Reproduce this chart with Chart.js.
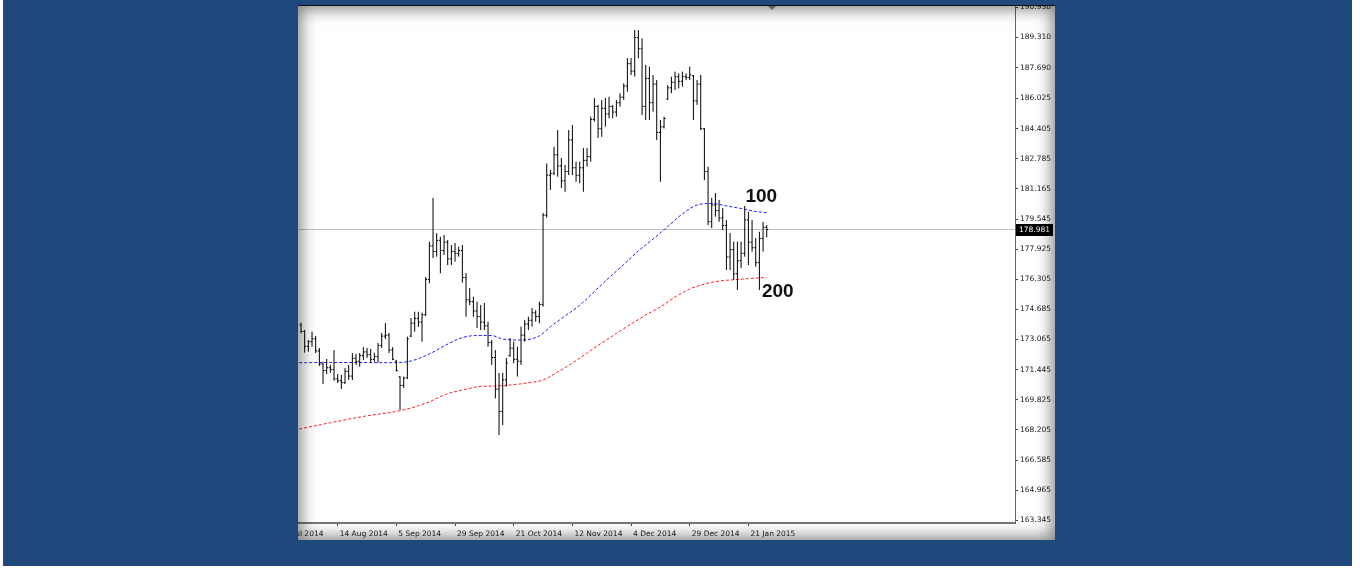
<!DOCTYPE html>
<html>
<head>
<meta charset="utf-8">
<title>GBPJPY Daily</title>
<script src="https://cdn.jsdelivr.net/npm/chart.js@4.4.1/dist/chart.umd.min.js"></script>
<style>
  html, body { margin: 0; padding: 0; background: #ffffff; }
  body { width: 1360px; height: 569px; position: relative; overflow: hidden; }
  #frame { position: absolute; left: 3px; top: 0; width: 1349px; height: 566px; background: #1f497d; }
  #panel { position: absolute; left: 298px; top: 5px; width: 757px; height: 535px; background: #fff;
           overflow: hidden; box-sizing: border-box; border-top: 1px solid #111; }
  #plot { position: absolute; left: 0; top: 0; width: 757px; height: 534px; }
  #shade { position: absolute; left: 0; top: 0; right: 0; bottom: 0; pointer-events: none;
           box-shadow: inset 0 0 16px 3px rgba(0,0,0,0.5); }
  #shift { position: absolute; left: 470px; top: 0; width: 0; height: 0;
           border-left: 4px solid transparent; border-right: 4px solid transparent; border-top: 4px solid #8a8a8a; }
</style>
</head>
<body>
<div id="frame"></div>
<div id="panel">
  <div id="plot"><canvas id="chart"></canvas></div>
  <div id="shift"></div>
  <div id="shade"></div>
</div>
<script>
// Daily bars, one entry per trading day (index 0 = 31 Jul 2014)
const opens = [
  173.85,173.50,172.70,172.95,173.10,172.45,171.75,171.40,171.55,171.45,
  170.95,170.85,170.75,171.35,171.10,172.05,171.90,172.20,172.40,172.25,
  172.00,172.15,172.75,173.25,173.30,172.50,171.90,171.05,170.60,171.00,
  173.25,173.95,174.20,174.00,174.40,176.30,178.10,177.80,178.40,177.85,
  178.30,177.40,177.80,177.70,177.85,176.40,175.20,175.10,174.60,174.30,
  174.00,173.80,172.90,172.10,170.40,169.20,170.90,172.20,172.60,172.00,
  171.90,173.30,173.90,174.10,174.50,174.30,174.95,179.75,181.90,182.00,
  183.00,182.40,181.60,182.10,183.80,182.30,181.90,182.30,182.70,182.90,
  184.90,185.60,184.40,185.50,185.20,185.60,185.30,185.80,186.10,186.70,
  187.90,187.50,189.30,188.70,185.60,187.10,185.80,186.80,184.20,184.50,
  186.00,186.60,186.90,187.20,186.95,187.20,187.15,187.25,185.90,186.80,
  184.40,182.10,179.40,180.30,180.00,179.60,179.20,177.50,177.90,176.60,
  177.30,177.70,179.50,178.30,178.00,177.20,178.50,179.10
];
const highs = [
  173.97,173.58,173.04,173.49,173.26,172.61,171.87,172.02,171.70,172.50,
  171.21,171.16,171.53,171.70,172.34,172.29,172.34,172.66,172.61,172.56,
  172.36,172.88,173.42,173.95,173.42,172.66,171.96,171.10,171.07,173.22,
  174.22,174.56,174.56,174.51,176.43,178.33,180.68,178.79,178.59,178.69,
  178.42,178.15,178.26,178.06,178.15,176.64,175.84,175.37,175.10,174.92,
  175.03,174.02,173.04,172.50,171.27,171.27,172.07,173.15,172.95,172.68,
  173.76,174.12,174.29,174.76,174.65,175.10,179.87,182.54,182.18,183.43,
  184.33,182.83,182.45,184.33,184.60,182.63,182.63,183.36,183.36,185.05,
  186.05,185.68,185.95,186.05,186.12,185.68,185.95,186.31,186.84,188.20,
  188.20,189.71,189.71,189.26,187.83,187.74,187.29,187.02,184.87,185.05,
  186.75,187.20,187.47,187.38,187.47,187.38,187.74,187.29,187.02,187.29,
  184.44,182.36,180.68,180.94,180.57,180.14,179.49,178.79,178.33,178.33,
  178.33,180.25,179.94,179.49,178.52,178.86,179.40,179.22
];
const lows = [
  173.40,172.36,172.41,172.68,172.34,171.64,170.67,171.21,171.28,170.85,
  170.73,170.41,170.67,170.89,170.89,171.70,171.60,171.96,172.07,171.80,
  171.87,171.82,172.61,173.09,172.34,171.96,171.34,169.28,170.46,170.94,
  173.20,173.49,173.74,172.95,174.33,176.09,177.45,177.52,176.63,177.61,
  177.07,177.07,177.25,177.52,176.12,174.29,174.92,174.29,173.69,173.58,
  173.58,172.68,171.70,169.90,167.93,168.47,170.53,172.14,171.79,171.07,
  171.70,172.95,173.58,173.76,174.02,173.94,174.83,179.62,181.11,181.91,
  181.82,181.21,181.01,181.91,181.91,181.55,181.47,181.01,182.36,182.63,
  184.78,183.90,183.97,184.51,184.96,184.96,185.05,185.59,185.95,186.39,
  187.29,187.20,188.19,185.14,184.87,184.87,185.32,183.79,181.55,184.42,
  185.95,186.31,186.48,186.57,186.66,187.02,187.02,184.87,185.68,184.33,
  181.64,179.22,179.06,179.67,179.40,178.95,176.80,176.80,176.27,175.73,
  176.91,177.52,177.07,177.79,176.98,175.73,177.79,178.56
];
const closes = [
  173.50,172.70,172.95,173.10,172.45,171.75,171.40,171.55,171.45,170.95,
  170.85,170.75,171.35,171.10,172.05,171.90,172.20,172.40,172.25,172.00,
  172.15,172.75,173.25,173.30,172.50,172.00,171.40,170.60,171.00,173.10,
  173.95,174.20,174.00,174.40,176.30,178.10,177.80,178.40,177.85,178.30,
  177.40,177.80,177.70,177.85,176.40,175.20,175.10,174.60,174.30,174.00,
  173.80,172.90,172.10,170.40,169.20,170.90,171.80,172.60,172.00,171.90,
  173.30,173.90,174.10,174.50,174.30,174.95,179.75,181.90,182.00,183.00,
  182.40,181.60,182.10,183.80,182.30,181.90,182.30,182.70,182.90,184.90,
  185.60,184.40,185.50,185.20,185.60,185.30,185.80,186.10,186.70,187.90,
  187.50,189.30,188.70,185.60,187.10,185.80,186.80,184.20,184.50,184.95,
  186.60,186.90,187.20,186.95,187.20,187.15,187.30,185.90,186.80,184.40,
  182.10,179.40,180.30,180.00,179.60,179.20,177.50,177.90,176.60,177.30,
  177.70,179.50,178.30,178.00,177.20,178.50,179.10,178.981
];

// Moving averages (100 and 200 period), sampled at bar indices
const ma100Idx = [-0.5, 8, 16, 24, 29, 35, 39.5, 44, 48, 52, 55, 60, 65, 68, 72, 76, 80, 84, 88, 92, 96, 100, 104, 108, 112, 116, 120, 124, 127];
const ma100 = [171.82, 171.83, 171.83, 171.82, 171.87, 172.29, 172.77, 173.17, 173.28, 173.28, 173.09, 173.04, 173.26, 173.75, 174.33, 174.91, 175.65, 176.39, 177.10, 177.83, 178.47, 179.14, 179.82, 180.30, 180.38, 180.25, 180.11, 179.95, 179.89];
const ma200Idx = [-0.5, 8, 17, 26, 30, 35, 39.5, 44, 48, 53, 57, 62, 66, 70, 74, 78, 82, 86, 90, 94, 98, 102, 106, 110, 114, 118, 122, 127];
const ma200 = [168.25, 168.59, 168.93, 169.20, 169.38, 169.72, 170.12, 170.35, 170.52, 170.57, 170.62, 170.74, 170.89, 171.32, 171.80, 172.34, 172.88, 173.39, 173.90, 174.38, 174.82, 175.35, 175.78, 176.05, 176.21, 176.28, 176.34, 176.41];

// Axis labelling
const dateTickIdx = [-6, 10, 26, 42, 58, 74, 90, 106, 122];
const dateTickLabels = ['23 Jul 2014', '14 Aug 2014', '5 Sep 2014', '29 Sep 2014', '21 Oct 2014', '12 Nov 2014', '4 Dec 2014', '29 Dec 2014', '21 Jan 2015'];
const priceTicks = [163.345, 164.965, 166.585, 168.205, 169.825, 171.445, 173.065, 174.685, 176.305, 177.925, 179.545, 181.165, 182.785, 184.405, 186.025, 187.690, 189.310, 190.930];
const lastPrice = 178.981;
const maLabels = [
  { text: '100', i: 121.2, price: 180.48 },
  { text: '200', i: 125.7, price: 175.37 }
];

// OHLC bars as line segments: high-low stem, open tick left, close tick right
const ohlcPoints = [];
for (let i = 0; i < opens.length; i++) {
  ohlcPoints.push(
    { x: i, y: lows[i] }, { x: i, y: highs[i] }, { x: i, y: null },
    { x: i - 0.4, y: opens[i] }, { x: i, y: opens[i] }, { x: i, y: null },
    { x: i, y: closes[i] }, { x: i + 0.4, y: closes[i] }, { x: i, y: null }
  );
}
const toPoints = (idx, vals) => idx.map((x, k) => ({ x, y: vals[k] }));

const axisFont = { family: '"DejaVu Sans", sans-serif', size: 7.5 };

const overlayPlugin = {
  id: 'overlay',
  afterDraw(chart) {
    const { ctx, chartArea, scales: { x, y } } = chart;
    const py = y.getPixelForValue(lastPrice);
    ctx.save();
    ctx.fillStyle = '#000';
    ctx.fillRect(chartArea.right + 1, Math.round(py) - 6, 37, 12);
    ctx.fillStyle = '#fff';
    ctx.font = '7.5px "DejaVu Sans", sans-serif';
    ctx.textBaseline = 'middle';
    ctx.textAlign = 'left';
    ctx.fillText(lastPrice.toFixed(3), chartArea.right + 4, Math.round(py));
    ctx.fillStyle = '#111';
    ctx.font = 'bold 19px "Liberation Sans", Arial, sans-serif';
    ctx.textBaseline = 'alphabetic';
    maLabels.forEach(l => ctx.fillText(l.text, x.getPixelForValue(l.i), y.getPixelForValue(l.price)));
    ctx.restore();
  }
};

new Chart(document.getElementById('chart'), {
  type: 'line',
  data: {
    datasets: [
      { data: ohlcPoints, borderColor: '#000', borderWidth: 1, pointRadius: 0, spanGaps: false },
      { data: toPoints(ma100Idx, ma100), borderColor: '#1f1fff', borderWidth: 1, borderDash: [3, 2], pointRadius: 0, cubicInterpolationMode: 'monotone' },
      { data: toPoints(ma200Idx, ma200), borderColor: '#ff1f1f', borderWidth: 1, borderDash: [3, 2], pointRadius: 0, cubicInterpolationMode: 'monotone' },
      { data: [{ x: -1, y: lastPrice }, { x: 200, y: lastPrice }], borderColor: '#c0c0c0', borderWidth: 1, pointRadius: 0 }
    ]
  },
  options: {
    responsive: true,
    maintainAspectRatio: false,
    animation: false,
    events: [],
    layout: { padding: { left: 1, top: 0, right: 0, bottom: 0 } },
    plugins: { legend: { display: false }, tooltip: { enabled: false } },
    scales: {
      x: {
        type: 'linear',
        min: -0.55,
        max: 194.7,
        afterBuildTicks: s => { s.ticks = dateTickIdx.map(v => ({ value: v })); },
        afterFit: s => { s.height = 17; s.paddingLeft = 0; s.paddingRight = 0; },
        grid: { drawOnChartArea: false, tickLength: 3, tickColor: '#444' },
        border: { display: true, color: '#777', width: 2 },
        ticks: {
          align: 'start', labelOffset: 2, padding: 4, maxRotation: 0, minRotation: 0, autoSkip: false,
          color: '#1a1a1a', font: axisFont,
          callback: v => dateTickLabels[dateTickIdx.indexOf(v)]
        }
      },
      y: {
        position: 'right',
        min: 163.20,
        max: 191.00,
        afterBuildTicks: s => { s.ticks = priceTicks.map(v => ({ value: v })); },
        afterFit: s => { s.width = 40; s.paddingTop = 0; s.paddingBottom = 0; },
        grid: { drawOnChartArea: false, tickLength: 3, tickColor: '#444' },
        border: { display: true, color: '#666', width: 1 },
        ticks: { padding: 2, autoSkip: false, color: '#1a1a1a', font: axisFont, callback: v => v.toFixed(3) }
      }
    }
  },
  plugins: [overlayPlugin]
});
</script>
</body>
</html>
